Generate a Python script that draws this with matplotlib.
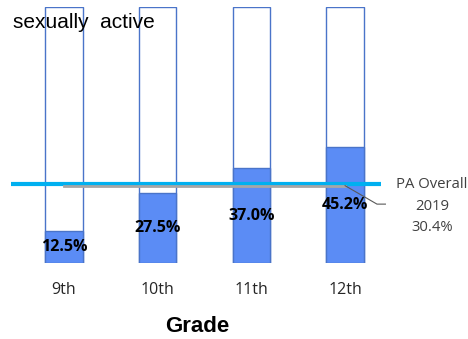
import numpy as np
import matplotlib.pyplot as plt

grades = ["9th", "10th", "11th", "12th"]
pct_active = [12.5, 27.5, 37.0, 45.2]
pa_overall = 30.4

FILL = "#5B8CF5"
EDGE = "#4A74C9"
CYAN = "#00B0F0"
GRAY = "#A6A6A6"

W, H = 468, 339
fig = plt.figure(figsize=(W / 100, H / 100), dpi=100)
# axes box in pixel terms: x 11..381, y 7..263 (top-down)
ax = fig.add_axes([11 / W, (H - 263) / H, 370 / W, 256 / H])

x = np.arange(len(grades))
width = 0.4
# empty 100% frames behind the filled bars
ax.bar(x, [100] * len(grades), width=width, color="white", edgecolor=EDGE, linewidth=1.0)
ax.bar(x, pct_active, width=width, color=FILL, edgecolor=EDGE, linewidth=1.0)

for xi, v in zip(x, pct_active):
    ax.text(xi, v / 2, f"{v:.1f}%", ha="center", va="center",
            fontsize=11.5, fontweight="bold", family="Open Sans", color="black")

ax.axhline(pa_overall + 0.5, color=CYAN, linewidth=3, zorder=3)
ax.plot([0, 3], [pa_overall - 0.2, pa_overall - 0.2], color=GRAY, linewidth=2, zorder=4)
# leader from the state line to its label
ax.plot([3, 3.34, 3.43], [pa_overall - 0.2, 23.0, 23.0], color="#595959",
        linewidth=0.8, clip_on=False, zorder=4)

ax.set_xlim(-0.566, 3.383)
ax.set_ylim(0, 100)
ax.set_xticks(x)
ax.set_xticklabels(grades, fontsize=11.5, family="Open Sans", color="#262626")
ax.tick_params(axis="x", length=0, pad=14)
ax.set_yticks([])
for s in ax.spines.values():
    s.set_visible(False)

fig.text(432 / W, 1 - 206 / H, "PA Overall\n2019\n30.4%", ha="center", va="center",
         fontsize=10.7, family="Open Sans", color="#404040", linespacing=1.6)
fig.text(197 / W, 1 - 327 / H, "Grade", ha="center", va="center",
         fontsize=16, fontweight="bold", family="Liberation Sans")
fig.text(13 / W, 1 - 22 / H, "sexually  active", ha="left", va="center",
         fontsize=15, family="Liberation Sans")

fig.savefig("out.png", dpi=100)
